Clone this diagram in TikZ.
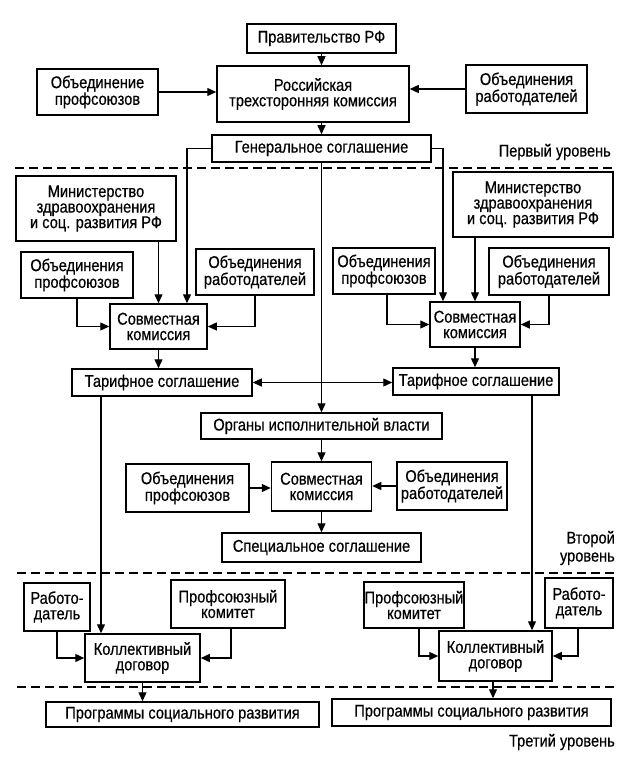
\documentclass[tikz,border=0pt]{standalone}
\usepackage{fontspec}
\setmainfont{Liberation Sans}[FakeStretch=0.86,FakeBold=0.5]
\usetikzlibrary{arrows.meta,calc}
\begin{document}
\begin{tikzpicture}[x=1pt,y=-1pt,
  box/.style={draw,line width=1.5pt,inner sep=0pt,align=center,font=\fontsize{17}{15.5}\selectfont},
  arr/.style={line width=1.3pt,-{Triangle[length=9pt,width=8pt]}},
  dbl/.style={line width=1.3pt,{Triangle[length=9pt,width=8pt]}-{Triangle[length=9pt,width=8pt]}},
  lvl/.style={line width=1.3pt,dash pattern=on 9pt off 5pt},
  lab/.style={inner sep=0pt,align=right,font=\fontsize{17}{18}\selectfont}]
\useasboundingbox[fill=white] (0,0) rectangle (638,767);
% level 1
\node[box,minimum width=149pt,minimum height=29pt] (gov) at (321.5,38.5) {Правительство РФ};
\node[box,minimum width=192pt,minimum height=56pt] (rtk) at (313,94) {Российская\\трехсторонняя комиссия};
\node[box,minimum width=121pt,minimum height=46pt] (unT) at (97.5,92) {Объединение\\профсоюзов};
\node[box,minimum width=121pt,minimum height=48pt] (emT) at (526.5,89) {Объединения\\работодателей};
\node[box,minimum width=219pt,minimum height=27pt] (gen) at (321.5,148.5) {Генеральное соглашение};
\node[lab,anchor=east] (l1) at (611,152) {Первый уровень};
\draw[lvl] (15,168) -- (615,168);
% left branch
\node[box,minimum width=160pt,minimum height=65pt] (minL) at (96,208.5) {Министерство\\здравоохранения\\и соц. развития РФ};
\node[box,minimum width=112pt,minimum height=46pt] (unL) at (77,275) {Объединения\\профсоюзов};
\node[box,minimum width=118pt,minimum height=46pt] (emL) at (255,272) {Объединения\\работодателей};
\node[box,minimum width=97pt,minimum height=45pt] (joL) at (158.5,326.5) {Совместная\\комиссия};
\node[box,minimum width=180pt,minimum height=27pt] (taL) at (162,382.5) {Тарифное соглашение};
% right branch
\node[box,minimum width=160pt,minimum height=65pt] (minR) at (533,204.5) {Министерство\\здравоохранения\\и соц. развития РФ};
\node[box,minimum width=102pt,minimum height=46pt] (unR) at (384,271) {Объединения\\профсоюзов};
\node[box,minimum width=120pt,minimum height=47pt] (emR) at (549,271.5) {Объединения\\работодателей};
\node[box,minimum width=90pt,minimum height=45pt] (joR) at (475,324.5) {Совместная\\комиссия};
\node[box,minimum width=166pt,minimum height=27pt] (taR) at (476,381.5) {Тарифное соглашение};
% middle
\node[box,minimum width=241pt,minimum height=26pt] (org) at (321.5,426) {Органы исполнительной власти};
\node[box,minimum width=123pt,minimum height=48pt] (unM) at (187.5,488) {Объединения\\профсоюзов};
\node[box,minimum width=100pt,minimum height=49pt] (joM) at (321.5,486.5) {Совместная\\комиссия};
\node[box,minimum width=110pt,minimum height=48pt] (emM) at (452,486) {Объединения\\работодателей};
\node[box,minimum width=199pt,minimum height=29pt] (spe) at (321.5,547.5) {Специальное соглашение};
\node[lab,anchor=east] (l2) at (615,548) {Второй\\уровень};
\draw[lvl] (17,573) -- (617,573);
% level 3
\node[box,minimum width=66pt,minimum height=48pt] (epL) at (57,607) {Работо-\\датель};
\node[box,minimum width=114pt,minimum height=48pt] (pkL) at (228,604) {Профсоюзный\\комитет};
\node[box,minimum width=115pt,minimum height=48pt] (kdL) at (142.5,658) {Коллективный\\договор};
\node[box,minimum width=273pt,minimum height=25pt] (prL) at (182.5,714.5) {Программы социального развития};
\node[box,minimum width=100pt,minimum height=46pt] (pkR) at (414,605) {Профсоюзный\\комитет};
\node[box,minimum width=68pt,minimum height=50pt] (epR) at (579,603) {Работо-\\датель};
\node[box,minimum width=113pt,minimum height=50pt] (kdR) at (495.5,656) {Коллективный\\договор};
\node[box,minimum width=279pt,minimum height=27pt] (prR) at (471.5,712.5) {Программы социального развития};
\draw[lvl] (17,687) -- (617,687);
\node[lab,anchor=east] (l3) at (615,742) {Третий уровень};
% connectors level 1
\draw[arr] (gov.south) -- (gov.south |- rtk.north);
\draw[arr] (unT.east) -- (unT.east -| rtk.west);
\draw[arr] (emT.west) -- (emT.west -| rtk.east);
\draw[arr] (gen.north |- rtk.south) -- (gen.north);
\draw[arr] (gen.west) -| ([xshift=28.5pt]joL.north);
\draw[arr] (gen.east) -| ([xshift=-32pt]joR.north);
\draw[arr] (gen.south) -- (org.north);
% left
\draw[arr] (minL.south -| joL.north) -- (joL.north);
\draw[arr] (unL.south) |- (joL.west);
\draw[arr] (emL.south) |- (joL.east);
\draw[arr] (joL.south) -- (joL.south |- taL.north);
% right
\draw[arr] (minR.south -| joR.north) -- (joR.north);
\draw[arr] ([xshift=3pt]unR.south) |- (joR.west);
\draw[arr] (emR.south) |- (joR.east);
\draw[arr] (joR.south) -- (joR.south |- taR.north);
\draw[dbl] (taL.east) -- (taL.east -| taR.west);
% middle
\draw[arr] (org.south) -- (joM.north);
\draw[arr] (unM.east) -- (unM.east -| joM.west);
\draw[arr] (emM.west) -- (emM.west -| joM.east);
\draw[arr] (joM.south) -- (spe.north);
% to level 3
\draw[arr] ([xshift=-61pt]taL.south) -- ([xshift=-61pt]taL.south |- kdL.north);
\draw[arr] ([xshift=56pt]taR.south) -- ([xshift=56pt]taR.south |- kdR.north);
\draw[arr] (epL.south) |- (kdL.west);
\draw[arr] ([xshift=3pt]pkL.south) |- (kdL.east);
\draw[arr] (kdL.south) -- (kdL.south |- prL.north);
\draw[arr] ([xshift=5pt]pkR.south) |- (kdR.west);
\draw[arr] ([xshift=-1pt]epR.south) |- (kdR.east);
\draw[arr] ([xshift=-2.5pt]kdR.south) -- ([xshift=-2.5pt]kdR.south |- prR.north);
\end{tikzpicture}
\end{document}
